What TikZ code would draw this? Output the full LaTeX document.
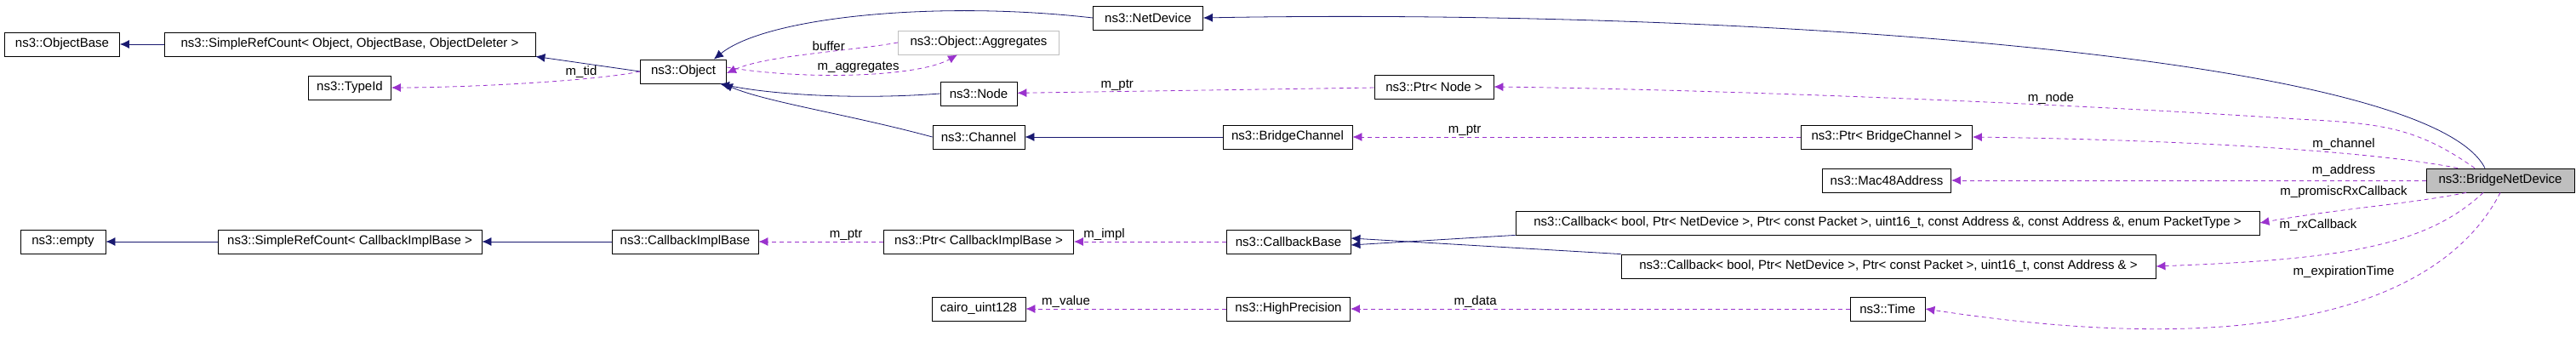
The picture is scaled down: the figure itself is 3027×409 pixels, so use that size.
\documentclass[tikz,border=0pt]{standalone}
\usepackage{fontspec}
\setmainfont{Liberation Sans}
\usetikzlibrary{arrows.meta}
\definecolor{inhcol}{HTML}{191970}
\definecolor{usecol}{HTML}{9A32CD}
\tikzset{
  cls/.style={draw,thick,rectangle,inner sep=0pt,minimum height=28pt,font=\fontsize{15}{15}\selectfont},
  inh/.style={draw=inhcol,thick,-{Latex[length=11pt,width=10pt]}},
  use/.style={draw=usecol,thick,dash pattern=on 5pt off 4pt,-{Latex[length=11pt,width=10pt]}},
  lbl/.style={font=\fontsize{15}{15}\selectfont,inner sep=1pt}
}
\newcommand{\cls}[5][]{\node[cls,#1,minimum width=#4pt] (#2) at (#3) {#5};}
\begin{document}
\begin{tikzpicture}[x=1pt,y=-1pt]
  \useasboundingbox (0,0) rectangle (3027,409);
  % classes
  \cls{objbase}{73,52}{135}{ns3::ObjectBase}
  \cls{srcobj}{411,52}{436}{ns3::SimpleRefCount< Object, ObjectBase, ObjectDeleter >}
  \cls{typeid}{411,103}{97}{ns3::TypeId}
  \cls{object}{803,84}{101}{ns3::Object}
  \cls[draw=lightgray]{aggr}{1150,50}{189}{ns3::Object::Aggregates}
  \cls{netdev}{1349,21}{129}{ns3::NetDevice}
  \cls{node}{1150,110}{90}{ns3::Node}
  \cls{ptrnode}{1685,102}{140}{ns3::Ptr< Node >}
  \cls{channel}{1150,161}{108}{ns3::Channel}
  \cls{brchan}{1513,161}{152}{ns3::BridgeChannel}
  \cls{ptrbrchan}{2217,161}{201}{ns3::Ptr< BridgeChannel >}
  \cls{mac}{2217,212}{151}{ns3::Mac48Address}
  \cls[fill=gray!50]{bnd}{2938,212}{174}{ns3::BridgeNetDevice}
  \cls{cbprom}{2218,262}{874}{ns3::Callback< bool, Ptr< NetDevice >, Ptr< const Packet >, uint16\_t, const Address \&, const Address \&, enum PacketType >}
  \cls{cbrx}{2219,313}{628}{ns3::Callback< bool, Ptr< NetDevice >, Ptr< const Packet >, uint16\_t, const Address \& >}
  \cls{cbbase}{1514,284}{146}{ns3::CallbackBase}
  \cls{ptrcib}{1150,284}{223}{ns3::Ptr< CallbackImplBase >}
  \cls{cib}{805,284}{172}{ns3::CallbackImplBase}
  \cls{srccib}{411,284}{310}{ns3::SimpleRefCount< CallbackImplBase >}
  \cls{empty}{74,284}{100}{ns3::empty}
  \cls{cairo}{1150,363}{110}{cairo\_uint128}
  \cls{hiprec}{1514,363}{145}{ns3::HighPrecision}
  \cls{time}{2218,363}{88}{ns3::Time}
  % inheritance
  \draw[inh] (srcobj) -- (objbase);
  \draw[inh] (object.west) -- (srcobj.south east);
  \draw[inh] (netdev.west) .. controls (1100,0) and (900,20) .. ([xshift=-15pt]object.north east);
  \draw[inh] (node.west) .. controls (1000,118) and (900,110) .. ([xshift=-8pt]object.south east);
  \draw[inh] (channel.west) .. controls (1000,135) and (900,120) .. ([xshift=-4pt]object.south east);
  \draw[inh] (brchan) -- (channel);
  \draw[inh] ([xshift=-18pt]bnd.north) .. controls (2850,60) and (2000,10) .. (netdev.east);
  \draw[inh] (cib) -- (srccib);
  \draw[inh] (srccib) -- (empty);
  \draw[inh] (cbprom.south west) -- ([yshift=-4pt]cbbase.east);
  \draw[inh] (cbrx.north west) -- ([yshift=4pt]cbbase.east);
  % members
  \draw[use] (object.west) .. controls (700,95) and (550,103) .. node[lbl,above,pos=0.3] {m\_tid} (typeid);
  \draw[use] (aggr.west) .. controls (1000,60) and (900,65) .. node[lbl,above,pos=0.4] {buffer} ([yshift=-2pt]object.east);
  \draw[use] ([yshift=5pt]object.east) .. controls (950,95) and (1080,90) .. node[lbl,above,pos=0.5] {m\_aggregates} ([xshift=-25pt]aggr.south);
  \draw[use] (ptrnode) -- node[lbl,above,pos=0.72] {m\_ptr} (node);
  \draw[use] ([xshift=-30pt]bnd.north) .. controls (2840,150) and (2800,145) .. (2700,140) .. controls (2400,120) and (2000,105) .. node[lbl,above,pos=0.3] {m\_node} (ptrnode.east);
  \draw[use] (ptrbrchan) -- node[lbl,above,pos=0.75] {m\_ptr} (brchan);
  \draw[use] ([xshift=-50pt]bnd.north) .. controls (2800,180) and (2600,165) .. (ptrbrchan.east);
  \draw[use] (bnd) -- (mac);
  \draw[use] ([xshift=-40pt]bnd.south) .. controls (2830,240) and (2750,245) .. (cbprom.east);
  \draw[use] ([xshift=-20pt]bnd.south) .. controls (2850,290) and (2750,305) .. (cbrx.east);
  \draw[use] (bnd.south) .. controls (2880,340) and (2700,430) .. (time.east);
  \node[lbl] (lchan) at (2754,170) {m\_channel};
  \node[lbl] (laddr) at (2754,201) {m\_address};
  \node[lbl] (lprom) at (2754,226) {m\_promiscRxCallback};
  \node[lbl] (lrx) at (2724,265) {m\_rxCallback};
  \node[lbl] (lexp) at (2754,320) {m\_expirationTime};
  \draw[use] (ptrcib) -- node[lbl,above,pos=0.3] {m\_ptr} (cib);
  \draw[use] (cbbase) -- node[lbl,above,pos=0.8] {m\_impl} (ptrcib);
  \draw[use] (hiprec) -- node[lbl,above,pos=0.8] {m\_value} (cairo);
  \draw[use] (time) -- node[lbl,above,pos=0.75] {m\_data} (hiprec);
\end{tikzpicture}
\end{document}
